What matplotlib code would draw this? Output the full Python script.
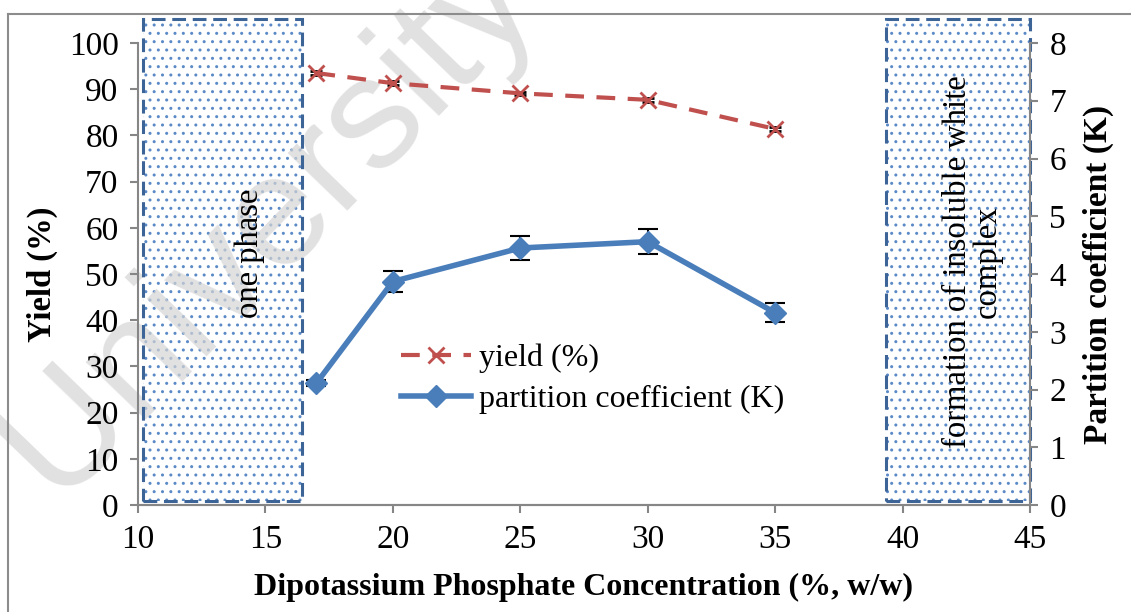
import matplotlib
matplotlib.use('Agg')
import matplotlib.pyplot as plt
from matplotlib.patches import Rectangle
from matplotlib.lines import Line2D

plt.rcParams['font.family'] = ['Liberation Serif', 'DejaVu Serif']

conc = [17, 20, 25, 30, 35]
yield_pct = [93.5, 91.3, 89.1, 87.7, 81.4]
yield_err = [0.4, 0.4, 0.4, 0.4, 0.4]
k_values = [2.11, 3.87, 4.45, 4.56, 3.33]
k_err = [0.05, 0.18, 0.21, 0.22, 0.16]

# shaded regions (x start, x end)
one_phase = (10.2, 16.45)
insoluble = (39.35, 45.0)

red = '#c0504d'
blue = '#4a7ebb'
grey = '#868686'

fig = plt.figure(figsize=(11.31, 6.12), dpi=100)
ax = fig.add_axes([138/1131, 1 - 505/612, (1030-138)/1131, (505-43)/612])
ax2 = ax.twinx()

# dotted boxes
for (x0, x1) in [one_phase, insoluble]:
    ax.add_patch(Rectangle((x0, 0.8), x1 - x0, 104.4, facecolor='white', edgecolor='#5b8ac6',
                           lw=0, hatch='..', clip_on=False, zorder=1))
    ax.add_patch(Rectangle((x0, 0.8), x1 - x0, 104.4, fill=False, edgecolor='#3d6496',
                           lw=2.2, ls=(0, (4.5, 2.2)), clip_on=False, zorder=2))

ax.text(14.4, 54.5, 'one phase', rotation=90, ha='center', va='center', fontsize=23.5, zorder=3)
ax.text(42.75, 52.6, 'formation of insoluble white\ncomplex', rotation=90, ha='center',
        va='center', multialignment='center', fontsize=23.5, linespacing=1.0, zorder=3)

# watermark
ax.text(268/1131, 1 - 222/612, 'University', transform=fig.transFigure, rotation=46,
        ha='center', va='center', fontsize=114, family='Liberation Sans', color='#d4d4d4',
        alpha=0.7, clip_on=False, zorder=1.5)

ax.errorbar(conc, yield_pct, yerr=yield_err, color=red, ecolor='black', elinewidth=1.2,
            capsize=4, lw=3, ls=(0, (4.5, 3)), marker='x', ms=11, mew=2, zorder=4)
ax2.errorbar(conc, k_values, yerr=k_err, color=blue, ecolor='black', elinewidth=1.5,
             capsize=7, capthick=1.5, lw=4, marker='D', ms=11, zorder=4)

ax.set_xlim(10, 45)
ax.set_ylim(0, 100)
ax2.set_ylim(0, 8)
ax.set_xticks(range(10, 46, 5))
ax.set_yticks(range(0, 101, 10))
ax2.set_yticks(range(0, 9))

for a in (ax, ax2):
    a.spines['top'].set_visible(False)
    for s in a.spines.values():
        s.set_color(grey)
        s.set_linewidth(1.5)
    a.tick_params(direction='out', length=6, width=1.5, color=grey, labelsize=24, pad=8)
ax2.spines['left'].set_visible(False)
ax.spines['right'].set_visible(False)

ax.set_ylabel('Yield (%)', fontsize=23.5, fontweight='bold', labelpad=8)
ax2.set_ylabel('Partition coefficient (K)', fontsize=24, fontweight='bold', labelpad=12)
ax.set_xlabel('Dipotassium Phosphate Concentration (%, w/w)', fontsize=23, fontweight='bold',
              labelpad=13)

h1 = Line2D([], [], color=red, lw=3, ls=(0, (4.5, 3)), marker='x', ms=11, mew=2)
h2 = Line2D([], [], color=blue, lw=4, marker='D', ms=11)
ax2.legend([h1, h2], ['yield (%)', 'partition coefficient (K)'], loc='center left',
           bbox_to_anchor=(401/1131, 1 - 379/612), bbox_transform=fig.transFigure,
           frameon=False, fontsize=23, handlelength=2.2, handletextpad=0.25,
           labelspacing=0.35, borderpad=0, borderaxespad=0)

# outer frame of the figure
fig.add_artist(Line2D([8/1131, 8/1131], [0, 1 - 14/612], color='#8c8c8c', lw=1.5))
fig.add_artist(Line2D([8/1131, 1], [1 - 14/612, 1 - 14/612], color='#8c8c8c', lw=1.5))

fig.savefig('out.png', dpi=100)
